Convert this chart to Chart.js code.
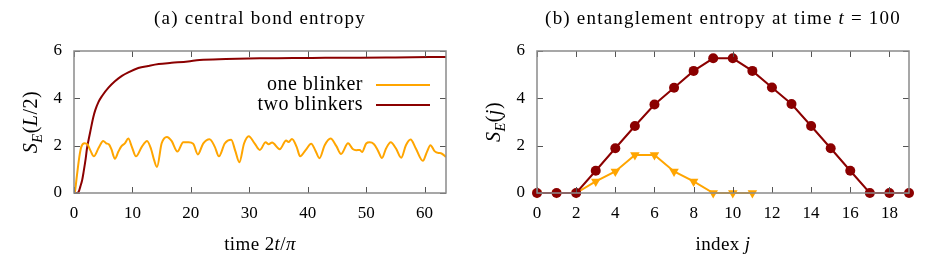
<!DOCTYPE html>
<html>
<head>
<meta charset="utf-8">
<script src="https://cdn.jsdelivr.net/npm/chart.js@4.4.1/dist/chart.umd.min.js"></script>
<style>
  body { margin: 0; background: #fff; }
  #wrap { position: relative; width: 926px; height: 259px; }
  canvas { position: absolute; top: 0; }
</style>
</head>
<body>
<div id="wrap">
  <canvas id="left" width="463" height="259" style="left:0"></canvas>
  <canvas id="right" width="463" height="259" style="left:463px"></canvas>
</div>
<script>
// (a) central bond entropy vs time 2t/pi
const oneT = [0, 0.11, 0.51, 0.91, 1.25, 1.8, 2.3, 2.8, 3.4, 4.2, 5.0, 5.5, 6.0, 6.4, 7.0, 7.6, 8.1, 8.7, 9.3, 9.9, 10.6, 11.6, 12.5, 13.2, 13.7, 14.2, 15.0, 15.9, 16.7, 17.7, 18.7, 19.6, 20.4, 21.2, 22.1, 23.2, 24.1, 24.8, 25.8, 26.9, 27.6, 28.3, 29.1, 29.9, 30.9, 31.8, 32.8, 33.3, 33.9, 35.2, 36.3, 36.7, 37.3, 38.1, 38.7, 39.6, 40.6, 41.3, 42.0, 42.9, 43.9, 44.9, 45.7, 46.9, 47.7, 48.3, 48.9, 49.3, 50.0, 50.6, 51.3, 52.0, 52.7, 53.4, 54.2, 55.1, 56.0, 56.8, 57.6, 58.5, 59.7, 60.4, 61.0, 61.7, 62.4, 62.8, 63.66];
const oneS = [0, 0.02, 0.76, 1.53, 1.95, 2.1, 2.05, 1.8, 1.55, 1.9, 2.2, 2.1, 2.05, 1.85, 1.45, 1.75, 1.97, 2.1, 2.3, 1.95, 1.55, 1.95, 2.2, 1.85, 1.4, 1.1, 2.1, 2.37, 2.2, 1.75, 2.14, 2.14, 2.08, 1.63, 2.09, 2.27, 1.95, 1.55, 2.09, 2.25, 1.78, 1.3, 2.09, 2.4, 2.1, 1.82, 2.14, 2.06, 2.13, 1.85, 2.22, 2.15, 2.28, 1.95, 1.55, 1.8, 2.08, 1.8, 1.47, 2.02, 2.3, 1.98, 1.65, 2.1, 1.86, 1.81, 1.82, 1.73, 2.09, 2.14, 2.07, 1.8, 1.48, 1.88, 2.14, 1.88, 1.49, 2.02, 2.26, 1.88, 1.36, 1.74, 2.02, 1.77, 1.69, 1.68, 1.52];
const twoT = [0, 0.5, 0.8, 1.08, 1.4, 1.65, 2.0, 2.22, 2.5, 2.79, 3.3, 3.64, 4.2, 4.8, 5.9, 7.0, 8.2, 9.3, 11.0, 12.7, 14.5, 16.7, 19.5, 21.5, 26, 31.8, 37.5, 43, 49, 55, 63.66];
const twoS = [0, 0, 0.05, 0.27, 0.55, 0.9, 1.45, 1.88, 2.25, 2.6, 3.2, 3.5, 3.85, 4.1, 4.45, 4.72, 4.95, 5.1, 5.28, 5.37, 5.45, 5.5, 5.56, 5.62, 5.66, 5.69, 5.7, 5.72, 5.72, 5.73, 5.75];

// (b) entanglement entropy at t = 100
const sitesTwo = [0, 1, 2, 3, 4, 5, 6, 7, 8, 9, 10, 11, 12, 13, 14, 15, 16, 17, 18, 19];
const entTwo = [0, 0, 0, 0.94, 1.89, 2.83, 3.74, 4.45, 5.16, 5.69, 5.69, 5.16, 4.46, 3.76, 2.83, 1.89, 0.94, 0, 0, 0];
const sitesOne = [0, 1, 2, 3, 4, 5, 6, 7, 8, 9, 10, 11];
const entOne = [0, 0, 0, 0.49, 0.91, 1.61, 1.61, 0.91, 0.49, 0, 0, 0];

const yTicks = [0, 2, 4, 6];
const timeTicks = [0, 10, 20, 30, 40, 50, 60];
const siteTicks = [0, 2, 4, 6, 8, 10, 12, 14, 16, 18];

const ORANGE = '#ffa500';
const DARKRED = '#8b0000';
const SERIF = '"Liberation Serif", "DejaVu Serif", serif';

function pts(xs, ys) {
  return xs.map((x, i) => ({ x: x, y: ys[i] }));
}

// draw text made of pieces, some italic / subscript, centred on (x, y)
function richText(ctx, segs, x, y, size, rot, spacing) {
  ctx.save();
  ctx.translate(x, y);
  if (rot) ctx.rotate(rot);
  ctx.textBaseline = 'alphabetic';
  ctx.fillStyle = '#000';
  ctx.letterSpacing = (spacing || 0) + 'px';
  let w = 0;
  const widths = segs.map(s => {
    const fs = s.sub ? size * 0.72 : size;
    ctx.font = (s.i ? 'italic ' : '') + fs + 'px ' + SERIF;
    const m = ctx.measureText(s.t).width;
    w += m;
    return m;
  });
  let cx = -w / 2;
  segs.forEach((s, k) => {
    const fs = s.sub ? size * 0.72 : size;
    ctx.font = (s.i ? 'italic ' : '') + fs + 'px ' + SERIF;
    ctx.fillText(s.t, cx, size * 0.33 + (s.sub ? size * 0.25 : 0));
    cx += widths[k];
  });
  ctx.restore();
}

// gnuplot-like frame with inward mirror ticks, plus titles
const framePlugin = {
  id: 'frame',
  afterDraw(chart, args, opts) {
    const ctx = chart.ctx;
    const a = chart.chartArea;
    const xs = chart.scales.x, ys = chart.scales.y;
    ctx.save();
    ctx.strokeStyle = '#555';
    ctx.lineWidth = 1;
    ctx.beginPath();
    xs.ticks.forEach(t => {
      const px = Math.round(xs.getPixelForValue(t.value)) + 0.5;
      ctx.moveTo(px, a.bottom); ctx.lineTo(px, a.bottom - 6);
      ctx.moveTo(px, a.top); ctx.lineTo(px, a.top + 6);
    });
    ys.ticks.forEach(t => {
      const py = Math.round(ys.getPixelForValue(t.value)) + 0.5;
      ctx.moveTo(a.left, py); ctx.lineTo(a.left + 6, py);
      ctx.moveTo(a.right, py); ctx.lineTo(a.right - 6, py);
    });
    ctx.stroke();
    ctx.strokeStyle = '#8a8a8a';
    ctx.lineWidth = 1.5;
    ctx.strokeRect(a.left, a.top, a.right - a.left, a.bottom - a.top);
    ctx.restore();

    const cx = (a.left + a.right) / 2;
    richText(ctx, opts.title, cx, 18, 19, 0, 1.2);
    richText(ctx, opts.xTitle, cx, 244, 19, 0, 0.4);
    richText(ctx, opts.yTitle, 30, (a.top + a.bottom) / 2, 20, -Math.PI / 2, 0.5);

    if (opts.legend) {
      ctx.save();
      ctx.font = '20px ' + SERIF;
      ctx.letterSpacing = '0.5px';
      ctx.textAlign = 'right';
      ctx.textBaseline = 'middle';
      opts.legend.forEach((l, k) => {
        const y = 85 + k * 20;
        ctx.fillStyle = '#000';
        ctx.fillText(l.label, 363, y);
        ctx.strokeStyle = l.color;
        ctx.lineWidth = 2;
        ctx.beginPath();
        ctx.moveTo(376, y); ctx.lineTo(430, y);
        ctx.stroke();
      });
      ctx.restore();
    }
  }
};

function scalesFor(xMax, xTickVals) {
  return {
    x: {
      type: 'linear', min: 0, max: xMax,
      afterBuildTicks: s => { s.ticks = xTickVals.map(v => ({ value: v })); },
      afterFit: s => { s.height = 66; },
      grid: { display: false, drawTicks: false },
      border: { display: false },
      ticks: { padding: 10, color: '#000', font: { family: SERIF, size: 17 }, maxRotation: 0 }
    },
    y: {
      type: 'linear', min: 0, max: 6,
      afterBuildTicks: s => { s.ticks = yTicks.map(v => ({ value: v })); },
      afterFit: s => { s.width = 74; },
      grid: { display: false, drawTicks: false },
      border: { display: false },
      ticks: { padding: 12, color: '#000', font: { family: SERIF, size: 17 } }
    }
  };
}

const common = {
  responsive: false,
  animation: false,
  devicePixelRatio: 1,
  layout: { padding: { left: 0, right: 17, top: 51, bottom: 0 } },
  plugins: { legend: { display: false }, tooltip: { enabled: false } }
};

new Chart(document.getElementById('left'), {
  type: 'line',
  data: {
    datasets: [
      { label: 'one blinker', data: pts(oneT, oneS), borderColor: ORANGE, borderWidth: 2,
        pointRadius: 0, cubicInterpolationMode: 'monotone' },
      { label: 'two blinkers', data: pts(twoT, twoS), borderColor: DARKRED, borderWidth: 2,
        pointRadius: 0, cubicInterpolationMode: 'monotone' }
    ]
  },
  options: Object.assign({}, common, {
    scales: scalesFor(63.66, timeTicks),
    plugins: Object.assign({}, common.plugins, {
      frame: {
        title: [{ t: '(a) central bond entropy' }],
        xTitle: [{ t: 'time 2' }, { t: 't', i: true }, { t: '/' }, { t: 'π', i: true }],
        yTitle: [{ t: 'S', i: true }, { t: 'E', i: true, sub: true }, { t: '(' }, { t: 'L', i: true }, { t: '/2)' }],
        legend: [{ label: 'one blinker', color: ORANGE }, { label: 'two blinkers', color: DARKRED }]
      }
    })
  }),
  plugins: [framePlugin]
});

new Chart(document.getElementById('right'), {
  type: 'line',
  data: {
    datasets: [
      { label: 'two blinkers', data: pts(sitesTwo, entTwo), borderColor: DARKRED, backgroundColor: DARKRED,
        borderWidth: 2, pointRadius: 5, pointStyle: 'circle', pointBorderWidth: 0 },
      { label: 'one blinker', data: pts(sitesOne, entOne), borderColor: ORANGE, backgroundColor: ORANGE,
        borderWidth: 2, pointRadius: 5.5, pointStyle: 'triangle', pointRotation: 180, pointBorderWidth: 0 }
    ]
  },
  options: Object.assign({}, common, {
    clip: false,
    scales: scalesFor(19, siteTicks),
    plugins: Object.assign({}, common.plugins, {
      frame: {
        title: [{ t: '(b) entanglement entropy at time ' }, { t: 't', i: true }, { t: ' = 100' }],
        xTitle: [{ t: 'index ' }, { t: 'j', i: true }],
        yTitle: [{ t: 'S', i: true }, { t: 'E', i: true, sub: true }, { t: '(' }, { t: 'j', i: true }, { t: ')' }]
      }
    })
  }),
  plugins: [framePlugin]
});
</script>
</body>
</html>
